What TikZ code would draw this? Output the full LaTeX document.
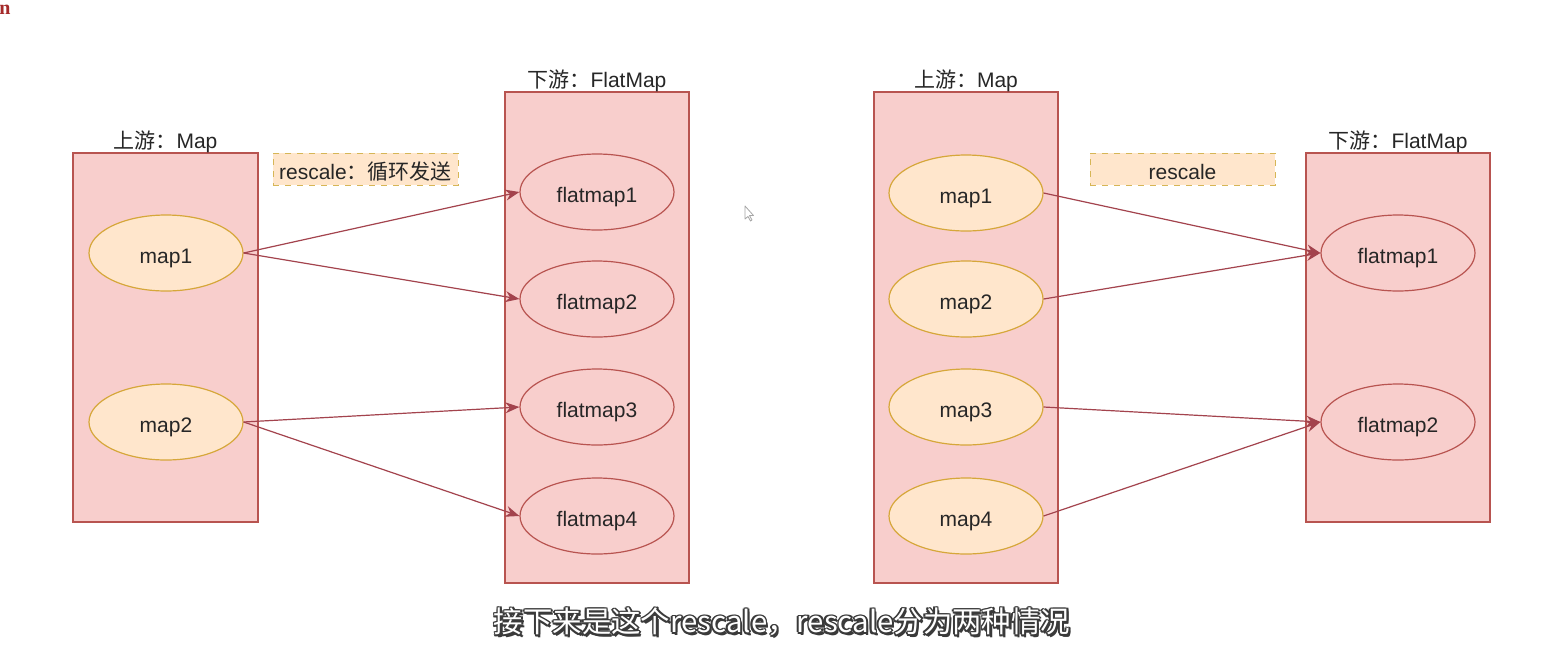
\documentclass[tikz,border=0pt]{standalone}
\usepackage{fontspec}
\setmainfont{Liberation Sans}
\newfontfamily\cjk{Noto Sans CJK SC}
\newfontfamily\serifn{Liberation Serif}
\usetikzlibrary{shapes.geometric,arrows.meta}
\definecolor{boxfill}{HTML}{F8CECC}
\definecolor{boxdraw}{HTML}{B85450}
\definecolor{orfill}{HTML}{FFE6CC}
\definecolor{ordraw}{HTML}{D6A73A}
\definecolor{notedraw}{HTML}{D6B656}
\definecolor{arrowc}{HTML}{A3434D}
\definecolor{redn}{HTML}{A52A2A}
\definecolor{subout}{HTML}{3A3A3A}
\begin{document}
\begin{tikzpicture}[x=0.5pt,y=-0.5pt,
  every node/.style={font=\fontsize{10.5}{12}\selectfont, text=black!85},
  box/.style={draw=boxdraw, fill=boxfill, line width=0.6pt, inner sep=0pt},
  ctext/.style={text height=1em, text depth=0pt},
  upell/.style={ellipse, draw=ordraw, fill=orfill, line width=0.6pt, minimum width=77pt, minimum height=38pt, inner sep=0pt, ctext},
  downell/.style={ellipse, draw=boxdraw, fill=boxfill, line width=0.6pt, minimum width=77pt, minimum height=38pt, inner sep=0pt, ctext},
  note/.style={draw=notedraw, fill=orfill, dashed, line width=0.5pt, minimum width=92.5pt, minimum height=16pt, inner sep=0pt, ctext},
  lbl/.style={anchor=south, inner sep=1pt, yshift=-1.6pt},
  conn/.style={draw=arrowc, line width=0.6pt, -{Stealth[length=7pt,width=5.5pt]}}
]
\useasboundingbox (0,0) rectangle (1560,654);
\fill[white] (0,0) rectangle (1560,654);

% stray red letter
\node[anchor=west, inner sep=0pt, text=redn, font=\serifn\bfseries\fontsize{10}{12}\selectfont] (n) at (-1,10) {n};

% boxes
\node[box, minimum width=92.5pt, minimum height=184.5pt] (B1) at (165.5,337.5) {};
\node[box, minimum width=92pt, minimum height=245.5pt] (B2) at (597,337.5) {};
\node[box, minimum width=92pt, minimum height=245.5pt] (B3) at (966,337.5) {};
\node[box, minimum width=92pt, minimum height=184.5pt] (B4) at (1398,337.5) {};

\node[lbl] (T1) at (B1.north) {{\cjk 上游：}Map};
\node[lbl] (T2) at (B2.north) {{\cjk 下游：}FlatMap};
\node[lbl] (T3) at (B3.north) {{\cjk 上游：}Map};
\node[lbl] (T4) at (B4.north) {{\cjk 下游：}FlatMap};

% notes
\node[note] (N1) at (365.5,169) {rescale{\cjk ：循环发送}};
\node[note] (N2) at (1182.5,169) {rescale};

% left group
\node[upell] (a1) at (166,253) {map1};
\node[upell] (a2) at (166,422) {map2};
\node[downell] (f1) at (597,192) {flatmap1};
\node[downell] (f2) at (597,299) {flatmap2};
\node[downell] (f3) at (597,407) {flatmap3};
\node[downell] (f4) at (597,516) {flatmap4};

% right group
\node[upell] (m1) at (966,193) {map1};
\node[upell] (m2) at (966,299) {map2};
\node[upell] (m3) at (966,407) {map3};
\node[upell] (m4) at (966,516) {map4};
\node[downell] (g1) at (1398,253) {flatmap1};
\node[downell] (g2) at (1398,422) {flatmap2};

% connectors
\draw[conn] (a1.east) -- (f1.west);
\draw[conn] (a1.east) -- (f2.west);
\draw[conn] (a2.east) -- (f3.west);
\draw[conn] (a2.east) -- (f4.west);
\draw[conn] (m1.east) -- (g1.west);
\draw[conn] (m2.east) -- (g1.west);
\draw[conn] (m3.east) -- (g2.west);
\draw[conn] (m4.east) -- (g2.west);

% mouse cursor
\draw[gray!70, fill=white, line width=0.4pt, line join=round]
  (745,206) -- (745,219) -- (748,216.5) -- (750.5,221) -- (752,220) -- (749.5,215.5) -- (753.5,215.5) -- cycle;

% subtitle with outline
\def\subtxt{\cjk 接下来是这个rescale，rescale分为两种情况}
\foreach \dx/\dy in {-1.8/0,1.8/0,0/-1.8,0/1.8,-1.3/-1.3,1.3/-1.3,-1.3/1.3,1.3/1.3,2.2/2.2}
  \node[text=subout, font=\fontsize{14.7}{16}\selectfont, inner sep=0pt] at (782+\dx,622+\dy) {\subtxt};
\node[text=white, font=\fontsize{14.7}{16}\selectfont, inner sep=0pt] (sub) at (782,622) {\subtxt};
\end{tikzpicture}
\end{document}
